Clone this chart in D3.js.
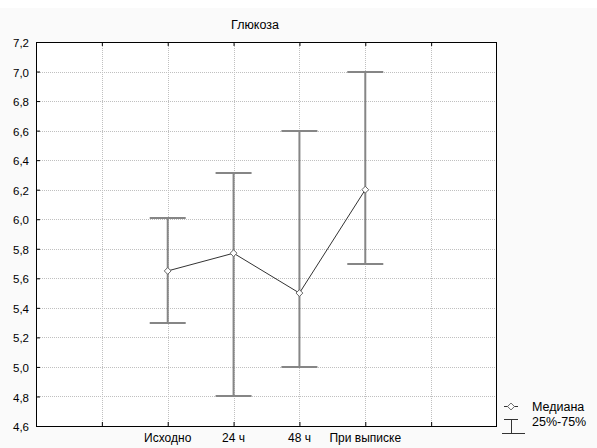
<!DOCTYPE html>
<html>
<head>
<meta charset="utf-8">
<script src="https://cdn.jsdelivr.net/npm/d3@7"></script>
<style>
  body { margin: 0; background: #fff; }
  text { font-family: "Liberation Sans", Arial, sans-serif; font-size: 12px; fill: #000; }
</style>
</head>
<body>
<div id="chart"></div>
<script>
// data
var categories = ["Исходно", "24 ч", "48 ч", "При выписке"];
var median = [5.65, 5.77, 5.5, 6.2];
var q25 = [5.3, 4.8, 5.0, 5.7];
var q75 = [6.01, 6.31, 6.6, 7.0];
var yTicks = [4.6, 4.8, 5.0, 5.2, 5.4, 5.6, 5.8, 6.0, 6.2, 6.4, 6.6, 6.8, 7.0, 7.2];
var catSlots = [2, 3, 4, 5]; // x positions of categories on a 0..7 grid

var W = 597, H = 448;
var margin = {top: 42, right: 100, bottom: 22, left: 36},
    width = W - margin.left - margin.right,
    height = H - margin.top - margin.bottom;

var svgRoot = d3.select("#chart").append("svg")
    .attr("width", W)
    .attr("height", H);

svgRoot.append("rect")
    .attr("x", 0).attr("y", 8).attr("width", W).attr("height", H - 8)
    .attr("fill", "#fafafa");

var svg = svgRoot.append("g")
    .attr("transform", "translate(" + margin.left + "," + margin.top + ")");

var x = d3.scaleLinear().domain([0, 7]).range([0, width]);
var y = d3.scaleLinear().domain([4.6, 7.2]).range([height, 0]);

// plot background
svg.append("rect")
    .attr("width", width).attr("height", height)
    .attr("fill", "#fff");

// grid
svg.append("g")
  .selectAll("line")
  .data(d3.range(1, 7))
  .enter().append("line")
    .attr("x1", function(d) { return Math.round(x(d)) + 0.5; })
    .attr("x2", function(d) { return Math.round(x(d)) + 0.5; })
    .attr("y1", 0).attr("y2", height)
    .attr("stroke", "#c0c0c0")
    .attr("stroke-dasharray", "1,1");

svg.append("g")
  .selectAll("line")
  .data(yTicks.slice(1, -1))
  .enter().append("line")
    .attr("y1", function(d) { return Math.round(y(d)) + 0.5; })
    .attr("y2", function(d) { return Math.round(y(d)) + 0.5; })
    .attr("x1", 0).attr("x2", width)
    .attr("stroke", "#c0c0c0")
    .attr("stroke-dasharray", "1,1");

// Y axis
var yAxis = svg.append("g")
  .call(d3.axisLeft(y).tickValues(yTicks).tickSizeInner(-4).tickSizeOuter(0)
        .tickPadding(7)
        .tickFormat(function(d) { return d3.format(".1f")(d).replace(".", ","); }));
yAxis.select(".domain").remove();
yAxis.selectAll("line").attr("stroke", "#000");
yAxis.selectAll("text").style("font-size", "11.5px").attr("dy", "0.4em");

// X axis ticks (inward, bottom and top)
var xAxis = svg.append("g")
  .attr("transform", "translate(0," + height + ")")
  .call(d3.axisBottom(x).tickValues(d3.range(1, 7)).tickSizeInner(-4).tickSizeOuter(0)
        .tickFormat(""));
xAxis.select(".domain").remove();
xAxis.selectAll("line").attr("stroke", "#000");

var xTop = svg.append("g")
  .call(d3.axisTop(x).tickValues(d3.range(1, 7)).tickSizeInner(-4).tickSizeOuter(0)
        .tickFormat(""));
xTop.select(".domain").remove();
xTop.selectAll("line").attr("stroke", "#000");

// category labels
svg.append("g")
  .selectAll("text")
  .data(categories)
  .enter().append("text")
    .attr("x", function(d, i) { return x(catSlots[i]); })
    .attr("y", height + 16)
    .attr("text-anchor", "middle")
    .text(function(d) { return d; });

// frame
svg.append("rect")
    .attr("x", 0.5).attr("y", 0.5)
    .attr("width", width - 1).attr("height", height)
    .attr("fill", "none")
    .attr("stroke", "#000");

// whiskers 25%-75%
var capHalf = 18;
var wk = svg.append("g").attr("stroke", "#868686").attr("fill", "none");
wk.selectAll(".vline")
  .data(categories)
  .enter().append("line")
    .attr("x1", function(d, i) { return x(catSlots[i]); })
    .attr("x2", function(d, i) { return x(catSlots[i]); })
    .attr("y1", function(d, i) { return y(q25[i]); })
    .attr("y2", function(d, i) { return y(q75[i]); })
    .attr("stroke-width", 2);
wk.selectAll(".capTop")
  .data(categories)
  .enter().append("line")
    .attr("x1", function(d, i) { return x(catSlots[i]) - capHalf; })
    .attr("x2", function(d, i) { return x(catSlots[i]) + capHalf; })
    .attr("y1", function(d, i) { return Math.round(y(q75[i])); })
    .attr("y2", function(d, i) { return Math.round(y(q75[i])); })
    .attr("stroke-width", 2);
wk.selectAll(".capBot")
  .data(categories)
  .enter().append("line")
    .attr("x1", function(d, i) { return x(catSlots[i]) - capHalf; })
    .attr("x2", function(d, i) { return x(catSlots[i]) + capHalf; })
    .attr("y1", function(d, i) { return Math.round(y(q25[i])); })
    .attr("y2", function(d, i) { return Math.round(y(q25[i])); })
    .attr("stroke-width", 2);

// median line
var line = d3.line()
    .x(function(d, i) { return x(catSlots[i]); })
    .y(function(d) { return y(d); });
svg.append("path")
    .datum(median)
    .attr("d", line)
    .attr("fill", "none")
    .attr("stroke", "#333")
    .attr("stroke-width", 1);

var diamond = d3.symbol().type(d3.symbolDiamond2).size(30);
svg.selectAll(".pt")
  .data(median)
  .enter().append("path")
    .attr("d", diamond)
    .attr("transform", function(d, i) { return "translate(" + x(catSlots[i]) + "," + y(d) + ")"; })
    .attr("fill", "#fff")
    .attr("stroke", "#666");

// title
svgRoot.append("text")
    .attr("x", 255).attr("y", 29)
    .attr("text-anchor", "middle")
    .style("font-size", "12.5px")
    .text("Глюкоза");

// legend
var lg = svgRoot.append("g").attr("transform", "translate(504,406)");
lg.append("line").attr("x1", 0).attr("x2", 14).attr("y1", 0.5).attr("y2", 0.5)
  .attr("stroke", "#333");
lg.append("path").attr("d", diamond).attr("transform", "translate(7,0.5)")
  .attr("fill", "#fff").attr("stroke", "#666");
lg.append("text").attr("x", 28).attr("y", 5).style("font-size", "12.5px").text("Медиана");
lg.append("line").attr("x1", 0).attr("x2", 14).attr("y1", 13.5).attr("y2", 13.5).attr("stroke", "#333");
lg.append("line").attr("x1", 7.5).attr("x2", 7.5).attr("y1", 13.5).attr("y2", 27.5).attr("stroke", "#333");
lg.append("line").attr("x1", -2).attr("x2", 21).attr("y1", 27.5).attr("y2", 27.5).attr("stroke", "#333");
lg.append("text").attr("x", 28).attr("y", 20).style("font-size", "12.5px").text("25%-75%");
</script>
</body>
</html>
